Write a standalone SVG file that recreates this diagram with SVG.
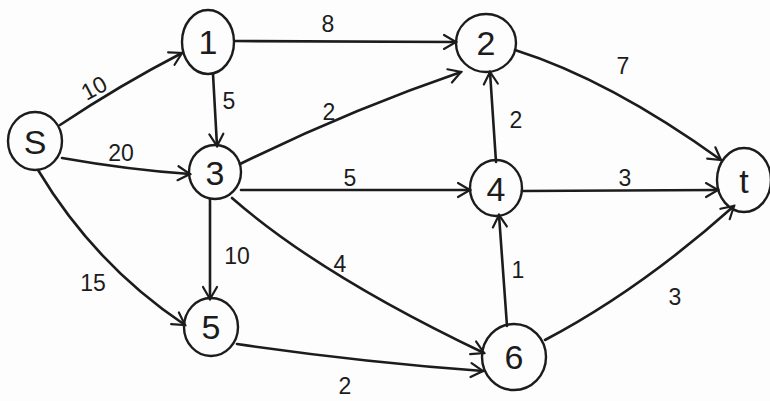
<svg xmlns="http://www.w3.org/2000/svg" width="770" height="401" viewBox="0 0 770 401">
<style>
.n{fill:none;stroke:#1c1c1c;stroke-width:2.4}
.nl{font-family:"Liberation Sans",Arial,sans-serif;font-size:34px;fill:#1c1c1c;text-anchor:middle;dominant-baseline:central}
.e{fill:none;stroke:#1c1c1c;stroke-width:2.6;stroke-linecap:round;marker-end:url(#ah)}
.w{font-family:"Liberation Sans",Arial,sans-serif;font-size:23px;fill:#1c1c1c;text-anchor:middle;dominant-baseline:central}
</style>
<defs>
<marker id="ah" markerUnits="userSpaceOnUse" markerWidth="20" markerHeight="20" refX="14" refY="8" orient="auto" viewBox="0 0 20 16">
<path d="M2,1 L14,8 L2,15" fill="none" stroke="#1c1c1c" stroke-width="2.2" stroke-linecap="round"/>
</marker>
</defs>
<rect width="770" height="401" fill="#fdfdfd"/>
<g id="edges">
<path class="e" d="M60,125 Q120,85 182,53"/>
<path class="e" d="M62,158 Q130,170 190,174"/>
<path class="e" d="M38,170 Q95,265 185,325"/>
<path class="e" d="M235,41 L456,42"/>
<path class="e" d="M213,74 L217,146"/>
<path class="e" d="M240,164 Q350,110 461,72"/>
<path class="e" d="M241,190 L470,190"/>
<path class="e" d="M210,199 L210,299"/>
<path class="e" d="M232,198 Q320,275 484,353"/>
<path class="e" d="M237,344 Q360,362 483,371"/>
<path class="e" d="M496,162 L490,72"/>
<path class="e" d="M522,191 L718,190"/>
<path class="e" d="M515,50 Q610,80 721,160"/>
<path class="e" d="M507,326 L499,215"/>
<path class="e" d="M545,340 Q640,290 734,206"/>
</g>
<g id="labels">
<text class="w" transform="translate(94,88) rotate(-28)">10</text>
<text class="w" x="328" y="24">8</text>
<text class="w" x="229" y="101">5</text>
<text class="w" x="329" y="112">2</text>
<text class="w" x="121" y="153">20</text>
<text class="w" x="350" y="178">5</text>
<text class="w" x="516" y="120">2</text>
<text class="w" x="623" y="66">7</text>
<text class="w" x="625" y="178">3</text>
<text class="w" x="237" y="256">10</text>
<text class="w" x="93" y="283">15</text>
<text class="w" x="340" y="264">4</text>
<text class="w" x="518" y="270">1</text>
<text class="w" x="675" y="297">3</text>
<text class="w" x="345" y="386">2</text>
</g>
<g id="node-s"><ellipse class="n" cx="35" cy="141" rx="27" ry="29"/><text class="nl" x="35" y="142">S</text></g>
<g id="node-1"><ellipse class="n" cx="208" cy="42" rx="26" ry="32"/><text class="nl" x="208" y="42">1</text></g>
<g id="node-2"><ellipse class="n" cx="486" cy="43" rx="30" ry="29"/><text class="nl" x="486" y="43">2</text></g>
<g id="node-3"><ellipse class="n" cx="215" cy="172" rx="26" ry="27"/><text class="nl" x="215" y="173">3</text></g>
<g id="node-4"><ellipse class="n" cx="496" cy="188" rx="26" ry="28"/><text class="nl" x="496" y="189">4</text></g>
<g id="node-t"><ellipse class="n" cx="744" cy="180" rx="27" ry="32"/><text class="nl" x="744" y="181">t</text></g>
<g id="node-5"><ellipse class="n" cx="211" cy="327" rx="27" ry="29"/><text class="nl" x="211" y="327">5</text></g>
<g id="node-6"><ellipse class="n" cx="514" cy="357" rx="32" ry="33"/><text class="nl" x="514" y="357">6</text></g>
</svg>
